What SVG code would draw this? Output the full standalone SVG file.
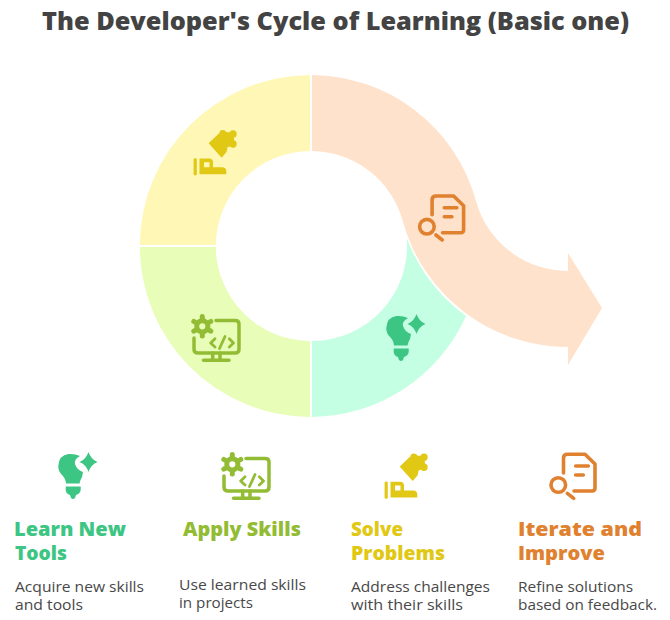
<svg xmlns="http://www.w3.org/2000/svg" xmlns:xlink="http://www.w3.org/1999/xlink" width="670" height="620" viewBox="0 0 670 620">
<style>
text{font-family:"Open Sans","Noto Sans","Liberation Sans",sans-serif}
.title{font-size:25px;font-weight:800;fill:#434343;text-anchor:middle}
.h{font-size:18.5px;font-weight:800}
.b{font-size:14px;fill:#484848}
.g{fill:#3CC583}.y{fill:#E0C814}
.tg{fill:#3CC583}.tl{fill:#93BC35}.ty{fill:#E0C814}.to{fill:#E0812F}
.sl{fill:none;stroke:#93BC35;stroke-width:3.5;stroke-linecap:round;stroke-linejoin:round}
.so{fill:none;stroke:#E0812F;stroke-width:3.6;stroke-linecap:round;stroke-linejoin:round}
</style>
<defs>
<g id="bulb" class="g">
<path d="M68.500,454Q75,453.600 80,456Q74,459 75,464Q77,470 83,472Q82.500,477 80.500,480L79.500,483.500H66Q65.500,478 62,475Q58,471 58.300,466Q59,455 68.500,454Z"/>
<path d="M65.700,486.500H80.700V490Q80,494 76,495L75,498Q73,500 71,498L70,495Q66,494 65.700,490Z"/>
<path d="M88.500,452Q91,459.500 97.500,462Q91,464.500 88.500,472Q86,464.500 79.500,462Q86,459.500 88.500,452Z"/>
</g>
<g id="monitor">
<path class="sl" d="M224,476V487Q224,491 228,491H265Q269,491 269,487V462Q269,458.500 265,458.500H246"/>
<path class="sl" d="M233.500,498.300H259M242.700,491V498M250,491V498"/>
<path class="sl" style="stroke-width:2.800" d="M245,476.700L240.700,481L245,485M259.300,476.700L263.500,481L259.300,485M255,474.500L249.500,486.500"/>
<circle cx="232.300" cy="464.300" r="5.600" fill="none" stroke="#93BC35" stroke-width="5"/>
<path fill="none" stroke="#93BC35" stroke-width="5" stroke-linecap="round" d="M232.300,454.500V456M232.300,472.600V474.100M223.800,459.400L225,460.100M239.600,468.500L240.800,469.200M223.800,469.200L225,468.500M239.600,460.100L240.800,459.400"/>
</g>
<g id="tool" class="y">
<rect x="384.600" y="481.500" width="3.200" height="17.300" rx="1.400"/>
<path fill-rule="evenodd" d="M390.500,481.700H400Q404,481.700 404,485.500V490.600H413Q417.300,490.600 417.300,494.500V497.500H390.500ZM395,485.500V490.600H400.500V485.500Z"/>
<path stroke="#E0C814" stroke-width="1.200" stroke-linejoin="round" d="M400.500,466.600L410.300,457.300L419,466L417,475L412.700,480.200Z"/>
<circle cx="417.500" cy="463" r="7.600"/>
<circle cx="413.800" cy="456.800" r="3.400"/>
<circle cx="424" cy="457.300" r="3.700"/>
<circle cx="424" cy="467.300" r="3.700"/>
</g>
<g id="doc">
<path class="so" d="M563.500,473V458Q563.500,454.300 567.500,454.300H585L595,464V488Q595,491 592,491H574"/>
<path class="so" d="M575.700,466H588.300M575.700,475H583.300"/>
<circle cx="558.300" cy="485" r="7.300" class="so"/>
<path class="so" d="M567.300,493.300L573.700,498.300"/>
</g>
</defs>

<text class="title" x="335.500" y="30" textLength="587" lengthAdjust="spacingAndGlyphs">The Developer's Cycle of Learning (Basic one)</text>

<g id="connectors"></g>

<g id="ring">
<g id="segment-solve">
<path fill="#FFF7B6" d="M310,75A171 171 0 0 0 139.800,245H215.800A95 95 0 0 1 310,151Z"/>
<use xlink:href="#tool" href="#tool" transform="translate(-191,-323.300)"/>
</g>
<g id="segment-apply">
<path fill="#E8FDB8" d="M139.800,247A171 171 0 0 0 310,417V341A95 95 0 0 1 215.800,247Z"/>
<use xlink:href="#monitor" href="#monitor" transform="translate(-30,-138)"/>
</g>
<g id="segment-learn">
<path fill="#C5FFE3" d="M312,417A171 171 0 0 0 466,316A173 173 0 0 1 406.700,238A95 95 0 0 1 312,341Z"/>
<use xlink:href="#bulb" href="#bulb" transform="translate(328,-138)"/>
</g>
<g id="segment-iterate">
<path fill="#FFE2CB" d="M312,75A171 171 0 0 1 476,201A95 95 0 0 0 568,271V253L602,308L568,365V347A171 171 0 0 1 402.700,221A95 95 0 0 0 312,151Z"/>
<use xlink:href="#doc" href="#doc" transform="translate(-131.400,-258.300)"/>
</g>
</g>

<g id="node-learn">
<use xlink:href="#bulb" href="#bulb"/>
<text class="h tg" x="14" y="536" textLength="112" lengthAdjust="spacingAndGlyphs">Learn New</text>
<text class="h tg" x="15" y="560" textLength="52" lengthAdjust="spacingAndGlyphs">Tools</text>
<text class="b" x="15" y="592" textLength="129" lengthAdjust="spacingAndGlyphs">Acquire new skills</text>
<text class="b" x="15" y="610" textLength="68" lengthAdjust="spacingAndGlyphs">and tools</text>
</g>
<g id="node-apply">
<use xlink:href="#monitor" href="#monitor"/>
<text class="h tl" x="183" y="536" textLength="118" lengthAdjust="spacingAndGlyphs">Apply Skills</text>
<text class="b" x="179" y="590" textLength="127" lengthAdjust="spacingAndGlyphs">Use learned skills</text>
<text class="b" x="179" y="608" textLength="74" lengthAdjust="spacingAndGlyphs">in projects</text>
</g>
<g id="node-solve">
<use xlink:href="#tool" href="#tool"/>
<text class="h ty" x="351" y="536" textLength="52" lengthAdjust="spacingAndGlyphs">Solve</text>
<text class="h ty" x="351" y="560" textLength="94" lengthAdjust="spacingAndGlyphs">Problems</text>
<text class="b" x="351" y="592" textLength="139" lengthAdjust="spacingAndGlyphs">Address challenges</text>
<text class="b" x="351" y="610" textLength="112" lengthAdjust="spacingAndGlyphs">with their skills</text>
</g>
<g id="node-iterate">
<use xlink:href="#doc" href="#doc"/>
<text class="h to" x="518" y="536" textLength="124" lengthAdjust="spacingAndGlyphs">Iterate and</text>
<text class="h to" x="518" y="560" textLength="87" lengthAdjust="spacingAndGlyphs">Improve</text>
<text class="b" x="518" y="592" textLength="115" lengthAdjust="spacingAndGlyphs">Refine solutions</text>
<text class="b" x="518" y="610" textLength="139" lengthAdjust="spacingAndGlyphs">based on feedback.</text>
</g>
</svg>
